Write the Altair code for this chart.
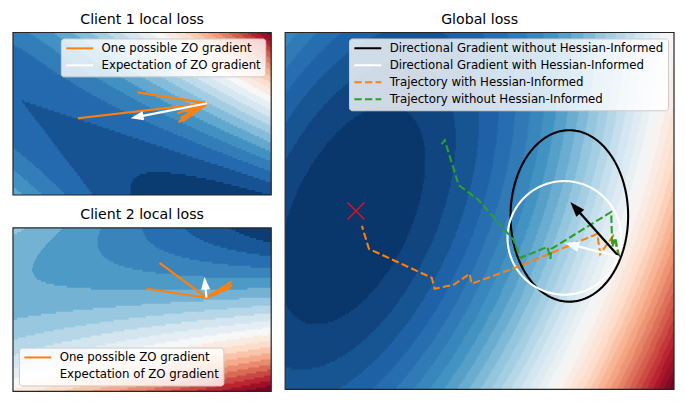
import numpy as np
import pandas as pd
import altair as alt

FONT = "DejaVu Sans"
RDBU_R = ["#053061", "#2166ac", "#4393c3", "#92c5de", "#d1e5f0", "#f7f7f7",
          "#fddbc7", "#f4a582", "#d6604d", "#b2182b", "#67001f"]
CMAP_STOPS = [i / 10 for i in range(11)]
HEAD = "M0,-1L0.7,1L-0.7,1Z"
LEG_LINE = "M-3,0L3,0"
ORANGE, GREEN = "#ff7f0e", "#2ca02c"

# panel sizes (plot units = pixels inside each panel)
C_W, C1_H, C2_H = 259, 163, 164
G_W, G_H = 390, 358

# ---------------- loss surfaces (parameters) -------------
C1_TIP = (8.0, 68.0)          # tip of the dark valley
C1_AXIS = (0.814, 0.581)      # valley direction
C1_BETA = 0.096
C1_STEP = 1830.0

# client 2: quadratic in normalised panel coords (x, y in [0, 1])
C2_COEF = [0.33, -0.32, -0.34, 0.04, 0.56, 0.73]   # 1, x, y, x^2, y^2, xy
C2_STEP = 0.045

G_CENTER = (67.0, 183.0)      # global minimum basin
G_PHI = 25.0                  # tilt of the minor axis (deg)
G_RATIO = 0.256
G_STEP = 3550.0

# ---------------- client 1 -------------
c1_origin = (195, 71)
c1_zo_x = [65, 125, 166, 168, 170, 165, 175]
c1_zo_y = [86, 60, 90, 86, 89, 81, 80]
c1_exp_tip = (118, 86)

# ---------------- client 2 -------------
c2_origin = (194, 70)
c2_zo_x = [134, 147, 219, 220, 218, 205]
c2_zo_y = [61, 35, 54, 57, 60, 66]
c2_exp_tip = (192, 49)

# ---------------- global -------------
g_start = (335, 225)
g_black_tip = (286, 170)
g_white_tip = (280, 211)
g_black_ellipse = (285, 184, 59, 86)   # cx, cy, rx, ry
g_white_circle = (280, 206, 57)        # cx, cy, r
g_min = (71, 179)
traj_hess_x = [335, 329, 316, 313, 236, 187, 185, 169, 150, 147, 84, 77]
traj_hess_y = [225, 204, 222, 202, 234, 252, 242, 253, 257, 246, 217, 194]
traj_plain_x = [335, 331, 328, 327, 267, 266, 263, 241, 236, 229, 194, 174, 160, 157]
traj_plain_y = [225, 206, 215, 180, 217, 227, 215, 224, 226, 208, 168, 153, 108, 112]

C_NAMES = ["One possible ZO gradient", "Expectation of ZO gradient"]
G_NAMES = ["Directional Gradient without Hessian-Informed",
           "Directional Gradient with Hessian-Informed",
           "Trajectory with Hessian-Informed",
           "Trajectory without Hessian-Informed"]


def f_client1(X, Y):
    dx, dy = X - C1_TIP[0], Y - C1_TIP[1]
    z = dx * C1_AXIS[0] + dy * C1_AXIS[1]
    w = dx * C1_AXIS[1] - dy * C1_AXIS[0]
    return w ** 2 - C1_BETA * z * np.abs(z)


def f_client2(X, Y):
    x, y = X / C_W, Y / C2_H
    p = C2_COEF
    return p[0] + p[1] * x + p[2] * y + p[3] * x * x + p[4] * y * y + p[5] * x * y


def f_global(X, Y):
    dx, dy = X - G_CENTER[0], Y - G_CENTER[1]
    c, s = np.cos(np.radians(G_PHI)), np.sin(np.radians(G_PHI))
    n = dx * c + dy * s
    m = dx * s - dy * c
    return n ** 2 + G_RATIO * m ** 2


def field_rects(W, H, fn, step, dy=2):
    xs = np.arange(W) + 0.5
    ys = np.arange(0, H, dy)
    X, Y = np.meshgrid(xs, ys + dy / 2)
    K = np.floor(fn(X, Y) / step).astype(int)
    kmin, kmax = K.min(), K.max()
    n = kmax - kmin + 1
    recs = []
    for r, y0 in enumerate(ys):
        row = K[r]
        change = np.flatnonzero(np.diff(row)) + 1
        starts = np.r_[0, change]
        ends = np.r_[change, W]
        for s, e in zip(starts, ends):
            recs.append(dict(x=float(s), x2=float(e) + 0.8, y=float(y0),
                             y2=float(y0 + dy) + 0.8, v=(row[s] - kmin + 0.5) / n))
    return pd.DataFrame(recs)


def scales(W, H):
    return (alt.Scale(domain=[0, W], nice=False, zero=False),
            alt.Scale(domain=[0, H], nice=False, zero=False, reverse=True))


def heat(df, W, H):
    xs, ys = scales(W, H)
    return alt.Chart(df).mark_rect(clip=True, strokeWidth=0).encode(
        x=alt.X("x:Q", scale=xs, axis=None), x2="x2:Q",
        y=alt.Y("y:Q", scale=ys, axis=None), y2="y2:Q",
        fill=alt.Fill("v:Q", scale=alt.Scale(domain=CMAP_STOPS, range=RDBU_R,
                                             interpolate="rgb"), legend=None))


def legend(orient):
    return alt.Legend(title=None, orient=orient, offset=6,
                      fillColor="rgba(255,255,255,0.8)", strokeColor="#cccccc",
                      cornerRadius=3, padding=4, labelFont=FONT, labelFontSize=11.8,
                      labelColor="black", labelLimit=500, labelOffset=16,
                      symbolType=LEG_LINE, symbolSize=81, symbolStrokeWidth=2,
                      symbolOffset=9, rowPadding=4)


def lines(df, W, H, names, colors, leg, dashes=None, width=2.0):
    xs, ys = scales(W, H)
    enc = dict(x=alt.X("x:Q", scale=xs, axis=None),
               y=alt.Y("y:Q", scale=ys, axis=None),
               detail="seg:N", order="i:Q",
               stroke=alt.Stroke("series:N", scale=alt.Scale(domain=names, range=colors),
                                 legend=leg))
    if dashes is not None:
        enc["strokeDash"] = alt.StrokeDash("series:N",
                                           scale=alt.Scale(domain=names, range=dashes),
                                           legend=leg)
    return alt.Chart(df).mark_line(strokeWidth=width, clip=True).encode(**enc)


def arrow(origin, tip, length):
    dx, dy = tip[0] - origin[0], tip[1] - origin[1]
    d = float(np.hypot(dx, dy))
    ux, uy = dx / d, dy / d
    ang = float(np.degrees(np.arctan2(dx, -dy))) % 360
    r = length / 2
    head = dict(x=tip[0] - r * ux, y=tip[1] - r * uy, ang=ang, size=length * length)
    base = (tip[0] - (length - 2) * ux, tip[1] - (length - 2) * uy)
    return head, base


def heads(rows, W, H, color):
    xs, ys = scales(W, H)
    return alt.Chart(pd.DataFrame(rows)).mark_point(
        shape=HEAD, filled=True, fill=color, opacity=1, strokeWidth=0).encode(
        x=alt.X("x:Q", scale=xs, axis=None), y=alt.Y("y:Q", scale=ys, axis=None),
        angle=alt.Angle("ang:Q", scale=None), size=alt.Size("size:Q", scale=None))


def frame(W, H):
    return alt.Chart(pd.DataFrame({"a": [0]})).mark_rect(
        fill=None, stroke="#262626", strokeWidth=1.2).encode(
        x=alt.value(0), x2=alt.value(W), y=alt.value(0), y2=alt.value(H))


def title(text):
    return alt.TitleParams(text, fontSize=14.2, font=FONT, fontWeight="normal",
                           color="black", anchor="middle", offset=5)


def client_panel(H, fn, step, origin, zx, zy, tip, ttl, orient):
    recs = []
    for k, (x, y) in enumerate(zip(zx, zy)):
        recs += [dict(seg=k, i=0, x=origin[0], y=origin[1], series=C_NAMES[0]),
                 dict(seg=k, i=1, x=x, y=y, series=C_NAMES[0])]
    head, base = arrow(origin, tip, 13)
    recs += [dict(seg=99, i=0, x=origin[0], y=origin[1], series=C_NAMES[1]),
             dict(seg=99, i=1, x=base[0], y=base[1], series=C_NAMES[1])]
    df = pd.DataFrame(recs)
    return alt.layer(
        heat(field_rects(C_W, H, fn, step), C_W, H),
        lines(df, C_W, H, C_NAMES, [ORANGE, "white"], legend(orient), width=2.2),
        heads([head], C_W, H, "white"),
        frame(C_W, H),
    ).properties(width=C_W, height=H, title=title(ttl))


c1 = client_panel(C1_H, f_client1, C1_STEP, c1_origin, c1_zo_x, c1_zo_y, c1_exp_tip,
                  "Client 1 local loss", "top-right")
c2 = client_panel(C2_H, f_client2, C2_STEP, c2_origin, c2_zo_x, c2_zo_y, c2_exp_tip,
                  "Client 2 local loss", "bottom-left")

# global panel
t = np.linspace(0, 2 * np.pi, 121)
grecs = []
bx, by, brx, bry = g_black_ellipse
for i, tt in enumerate(t):
    grecs.append(dict(seg=0, i=i, x=bx + brx * np.cos(tt), y=by + bry * np.sin(tt),
                      series=G_NAMES[0]))
wx, wy, wr = g_white_circle
for i, tt in enumerate(t):
    grecs.append(dict(seg=1, i=i, x=wx + wr * np.cos(tt), y=wy + wr * np.sin(tt),
                      series=G_NAMES[1]))
for i, (x, y) in enumerate(zip(traj_hess_x, traj_hess_y)):
    grecs.append(dict(seg=2, i=i, x=x, y=y, series=G_NAMES[2]))
for i, (x, y) in enumerate(zip(traj_plain_x, traj_plain_y)):
    grecs.append(dict(seg=3, i=i, x=x, y=y, series=G_NAMES[3]))
gdf = pd.DataFrame(grecs)

bhead, bbase = arrow(g_start, g_black_tip, 15)
whead, wbase = arrow(g_start, g_white_tip, 15)
xs_g, ys_g = scales(G_W, G_H)


def shaft(base, color):
    df = pd.DataFrame([dict(i=0, x=g_start[0], y=g_start[1]),
                       dict(i=1, x=base[0], y=base[1])])
    return alt.Chart(df).mark_line(stroke=color, strokeWidth=2.3).encode(
        x=alt.X("x:Q", scale=xs_g, axis=None), y=alt.Y("y:Q", scale=ys_g, axis=None),
        order="i:Q")


xmark = alt.Chart(pd.DataFrame({"x": [g_min[0]], "y": [g_min[1]]})).mark_point(
    shape="M-1,-1L1,1M-1,1L1,-1", filled=False, stroke="#e8101e", strokeWidth=1.3,
    size=289, opacity=1).encode(
    x=alt.X("x:Q", scale=xs_g, axis=None), y=alt.Y("y:Q", scale=ys_g, axis=None))

DASH = [7.4, 3.2]
g = alt.layer(
    heat(field_rects(G_W, G_H, f_global, G_STEP), G_W, G_H),
    lines(gdf, G_W, G_H, G_NAMES, ["black", "white", ORANGE, GREEN],
          legend("top-right"), dashes=[[1, 0], [1, 0], DASH, DASH], width=2.1),
    shaft(bbase, "black"), heads([bhead], G_W, G_H, "black"),
    shaft(wbase, "white"), heads([whead], G_W, G_H, "white"),
    xmark,
    frame(G_W, G_H),
).properties(width=G_W, height=G_H, title=title("Global loss"))

left = alt.vconcat(c1, c2, spacing=12).resolve_scale(
    stroke="independent").resolve_legend(stroke="independent")

chart = alt.hconcat(left, g, spacing=12).resolve_scale(
    stroke="independent", strokeDash="independent").resolve_legend(
    stroke="independent", strokeDash="independent").properties(
    padding={"left": 4, "top": 4, "right": 2, "bottom": 2}
).configure_view(stroke=None)

chart.save("out.html", embed_options={"renderer": "svg", "actions": False})
